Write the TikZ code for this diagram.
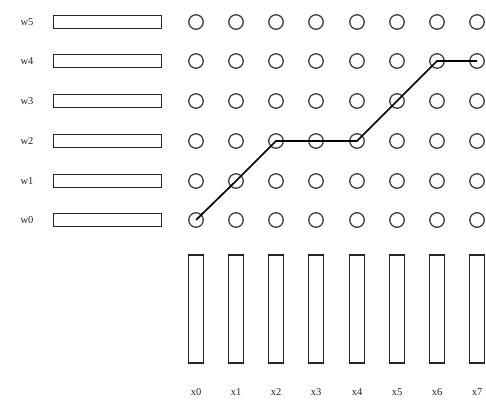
\documentclass[tikz,border=0pt]{standalone}
\usepackage{fontspec}
\setmainfont{Liberation Serif}
\begin{document}
\begin{tikzpicture}[x=1pt,y=-1pt,
  dot/.style={circle,draw=black!75,line width=1.3pt,minimum size=14.5pt,inner sep=0pt},
  wbox/.style={rectangle,draw=black!85,line width=1.2pt,minimum width=108pt,minimum height=13pt,inner sep=0pt},
  xbar/.style={rectangle,draw=black!85,line width=1.2pt,minimum width=14.5pt,minimum height=108pt,inner sep=0pt},
  lbl/.style={font=\fontsize{10.5pt}{12pt}\selectfont,text=black!85,inner sep=0pt},
  pathline/.style={line width=1.7pt,black}]
\useasboundingbox (0,0) rectangle (486,406);
% rows
\foreach \r/\yy in {0/220,1/181,2/141,3/101,4/61,5/22}{
  \node[lbl] (wl\r) at (27,\yy) {w\r};
  \node[wbox] (wb\r) at (107.5,\yy) {};
  \foreach \c/\xx in {0/196,1/236,2/276,3/316,4/357,5/397,6/437,7/477}{
    \node[dot] (c\c\r) at (\xx,\yy) {};
  }
}
% columns
\foreach \c/\xx in {0/196,1/236,2/276,3/316,4/357,5/397,6/437,7/477}{
  \node[xbar] (xb\c) at (\xx,309) {};
  \node[lbl] (xl\c) at (\xx,392) {x\c};
}
\draw[pathline] (c00.center) -- (c11.center) -- (c22.center) -- (c32.center) -- (c42.center) -- (c53.center) -- (c64.center) -- (c74.center);
\end{tikzpicture}
\end{document}
